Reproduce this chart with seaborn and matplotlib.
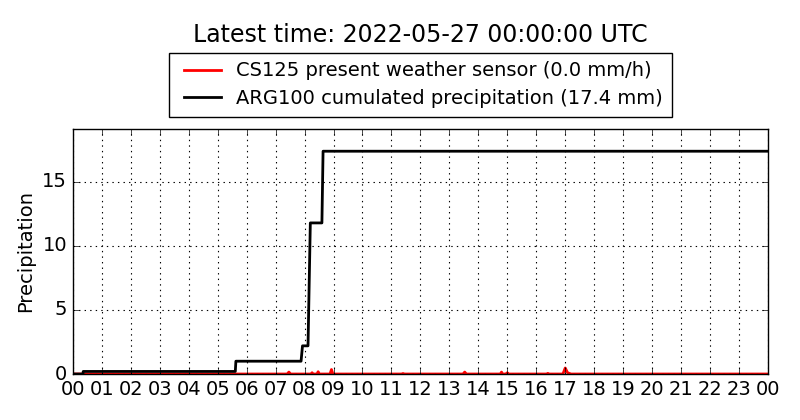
import datetime as dt
import matplotlib
matplotlib.use("Agg")
import matplotlib.pyplot as plt
import matplotlib.dates as mdates
import pandas as pd
import seaborn as sns

# --------------------------
# Data (hours since 2022-05-26 00:00 UTC)
# --------------------------
cs125_hours = [0.0, 7.40, 7.46, 7.52, 8.22, 8.26, 8.30, 8.43, 8.47, 8.51, 8.88, 8.93, 8.98,
               11.35, 11.40, 11.45, 13.47, 13.53, 13.59, 14.76, 14.80, 14.84, 14.97, 15.00,
               15.03, 16.36, 16.40, 16.44, 16.92, 17.00, 17.08, 17.20, 24.0]
cs125_rate = [0.0, 0.0, 0.15, 0.0, 0.0, 0.1, 0.0, 0.0, 0.18, 0.0, 0.0, 0.35, 0.0,
              0.0, 0.04, 0.0, 0.0, 0.15, 0.0, 0.0, 0.15, 0.0, 0.0, 0.1,
              0.0, 0.0, 0.05, 0.0, 0.0, 0.47, 0.1, 0.0, 0.0]

arg100_hours = [0.0, 0.35, 0.36, 5.61, 5.63, 7.88, 7.93, 8.12, 8.20, 8.60, 8.64, 24.0]
arg100_cum = [0.0, 0.0, 0.2, 0.2, 1.0, 1.0, 2.2, 2.2, 11.8, 11.8, 17.4, 17.4]

start = dt.datetime(2022, 5, 26, 0, 0)
red_df = pd.DataFrame({"time": [start + dt.timedelta(hours=h) for h in cs125_hours],
                       "value": cs125_rate})
black_df = pd.DataFrame({"time": [start + dt.timedelta(hours=h) for h in arg100_hours],
                         "value": arg100_cum})

# --------------------------
# Plot
# --------------------------
plt.style.use("classic")
plt.rcParams["font.family"] = ["DejaVu Sans"]

fig = plt.figure(figsize=(8, 4.2), dpi=100, facecolor="white")
ax = fig.add_axes([0.091, 0.1095, 0.869, 0.5835])

sns.lineplot(data=red_df, x="time", y="value", ax=ax, color="red", linewidth=2,
             label="CS125 present weather sensor (0.0 mm/h)")
sns.lineplot(data=black_df, x="time", y="value", ax=ax, color="black", linewidth=2,
             label="ARG100 cumulated precipitation (17.4 mm)")

ax.set_xlim(start, start + dt.timedelta(hours=24))
ax.set_ylim(0, 19.14)
ax.xaxis.set_major_locator(mdates.HourLocator(interval=1))
ax.xaxis.set_major_formatter(mdates.DateFormatter("%H"))
ax.set_yticks([0, 5, 10, 15])
ax.tick_params(labelsize=14)
ax.set_xlabel("")
ax.set_ylabel("Precipitation", fontsize=14)
ax.grid(True, color="black", linestyle=":", linewidth=0.8)

ax.legend(loc="lower center", bbox_to_anchor=(0.5, 1.049), borderaxespad=0,
          fontsize=14, fancybox=False, frameon=True, handlelength=2.5,
          labelspacing=0.45, borderpad=0.45, handletextpad=0.5)

fig.text(0.5256, 0.9167, "Latest time: 2022-05-27 00:00:00 UTC", fontsize=17,
         ha="center", va="center")

fig.savefig("out.png", dpi=100, facecolor="white")
